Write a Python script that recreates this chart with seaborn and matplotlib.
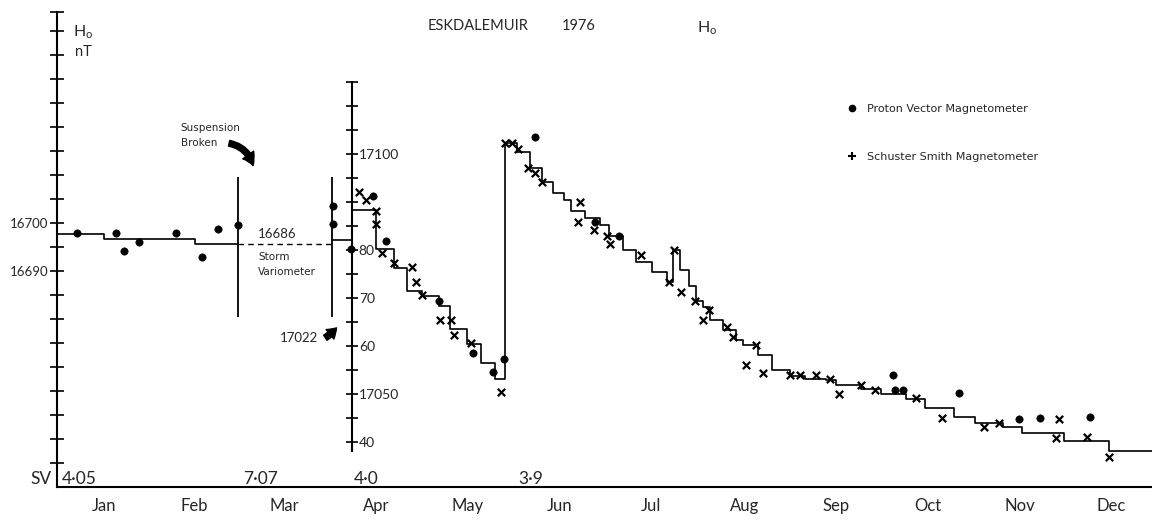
import numpy as np
import pandas as pd
import matplotlib
matplotlib.use("Agg")
import matplotlib.pyplot as plt
from matplotlib.lines import Line2D
import seaborn as sns

#%% values (day of year 1976, H in nT)
# Jan - Mar, left scale (166xx)
jan_step_day = [0.0, 15.6, 45.8, 60.1]
jan_step_h = [16697.7, 16696.7, 16695.6, 16695.6]
storm_day = [60.1, 91.3]
storm_h = [16695.6, 16695.6]
jan_pvm_day = [6.6, 19.6, 22.3, 27.2, 39.5, 48.2, 53.5, 60.1]
jan_pvm_h = [16697.9, 16697.9, 16694.1, 16696.0, 16697.9, 16692.9, 16698.7, 16699.6]
break_day = [60.1, 91.3]
break_lo = 16680.4
break_hi = 16709.6

# Apr - Dec, second scale (170xx)
step_day = [91.3, 98.0, 106.0, 112.1, 116.5, 121.2, 127.0, 130.8, 136.3, 141.1,
            145.5, 148.8, 153.0, 157.4, 161.3, 164.9, 168.5, 171.0, 175.4, 180.4,
            183.5, 188.1, 192.6, 197.9, 202.7, 204.7, 207.0, 210.1, 212.3, 214.7,
            217.2, 221.4, 225.8, 228.0, 233.0, 237.8, 243.5, 248.5, 255.7, 258.8,
            267.4, 274.0, 282.1, 288.7, 298.3, 305.0, 314.6, 320.8, 334.6, 349.6, 364.0]
step_h = [17082.1, 17088.3, 17080.2, 17076.2, 17071.5, 17070.3, 17068.3, 17063.5, 17060.4, 17056.4,
          17053.1, 17102.2, 17100.3, 17097.0, 17094.2, 17091.9, 17090.4, 17088.0, 17086.6, 17085.2,
          17082.9, 17080.0, 17077.4, 17075.3, 17073.4, 17080.0, 17075.8, 17072.4, 17069.4, 17068.1,
          17065.3, 17063.3, 17061.2, 17060.2, 17058.1, 17054.9, 17053.7, 17053.1, 17052.8, 17051.9,
          17051.0, 17050.0, 17049.0, 17047.0, 17045.1, 17043.9, 17043.1, 17041.9, 17040.1, 17038.0, 17038.0]
ssm_day = [100.4, 102.6, 106.0, 106.0, 108.2, 112.1, 118.0, 119.3, 121.4, 127.2,
           130.9, 131.9, 137.5, 147.7, 148.8, 151.3, 153.3, 156.6, 158.8, 161.2,
           173.8, 173.2, 178.5, 182.8, 183.7, 194.2, 203.3, 205.1, 207.3, 212.0,
           216.9, 214.7, 222.7, 224.6, 232.3, 228.9, 234.6, 243.5, 247.1, 252.2,
           256.8, 260.0, 267.4, 271.9, 285.4, 294.1, 308.3, 313.0, 333.2, 332.1,
           342.4, 349.6]
ssm_h = [17092.0, 17090.3, 17088.2, 17085.4, 17079.3, 17077.2, 17076.4, 17073.4, 17070.6, 17065.4,
         17065.4, 17062.3, 17060.6, 17050.3, 17102.2, 17102.2, 17101.0, 17097.0, 17096.0, 17094.2,
         17089.9, 17085.9, 17084.2, 17082.9, 17081.2, 17079.0, 17073.3, 17079.9, 17071.2, 17069.4,
         17067.4, 17065.3, 17064.0, 17061.9, 17060.2, 17056.0, 17054.3, 17053.9, 17053.9, 17053.9,
         17053.0, 17050.0, 17051.9, 17050.8, 17049.1, 17044.9, 17043.1, 17043.9, 17044.8, 17040.8,
         17041.0, 17036.9]
pvm_day = [91.7, 91.7, 97.6, 104.9, 109.3, 127.0, 138.3, 145.1, 148.5, 159.0,
           178.7, 186.7, 277.8, 278.7, 281.2, 300.0, 319.7, 326.8, 343.5]
pvm_h = [17089.2, 17085.4, 17080.2, 17091.3, 17081.9, 17069.4, 17058.5, 17054.6, 17057.3, 17103.5,
         17085.9, 17082.8, 17054.0, 17050.8, 17050.8, 17050.1, 17044.8, 17044.9, 17045.1]

month_start = [31, 60, 91, 121, 152, 182, 213, 244, 274, 305, 335]
month_mid = [15.5, 45.5, 75.5, 106, 136.5, 167, 197.5, 228.5, 259, 289.5, 320, 350.5]
month_names = ["Jan", "Feb", "Mar", "Apr", "May", "Jun", "Jul", "Aug", "Sep", "Oct", "Nov", "Dec"]
sv_day = [1.7, 61.8, 98.7, 153.5]
sv_text = ["4·05", "7·07", "4·0", "3·9"]
left_ticks = list(range(16650, 16746, 5))
left_labels = {16690: "16690", 16700: "16700"}
right_ticks = list(range(17040, 17116, 5))
right_labels = {17040: "40", 17050: "17050", 17060: "60", 17070: "70", 17080: "80", 17100: "17100"}

#%%
sns.set_style("white")
plt.rcParams['font.family'] = ['Lato', 'DejaVu Sans']
plt.rcParams['mathtext.fontset'] = 'custom'
plt.rcParams['mathtext.rm'] = 'Lato'

OFFSET = 385.6  # shift between the two H scales
YLIM = (16645, 16745)
LW = 1.2
SMALL = ['DejaVu Sans']

fig = plt.figure(figsize=(11.52, 5.2), dpi=100)
ax = fig.add_axes([57 / 1152, 33 / 520, 1 - 57 / 1152, 480 / 520])
ax2 = ax.twinx()

# Jan-Mar
sns.lineplot(x=jan_step_day, y=jan_step_h, drawstyle="steps-post", estimator=None, sort=False,
             color="k", lw=LW, ax=ax)
sns.lineplot(x=storm_day, y=storm_h, estimator=None, sort=False, color="k", lw=1.0,
             dashes=False, ax=ax).lines[-1].set_linestyle((0, (4, 3)))
sns.scatterplot(x=jan_pvm_day, y=jan_pvm_h, marker="o", s=28, color="k", edgecolor="k", ax=ax)
ax.vlines(break_day, break_lo, break_hi, color="k", lw=1.3)

# Apr-Dec
sns.lineplot(x=step_day, y=step_h, drawstyle="steps-post", estimator=None, sort=False,
             color="k", lw=LW, ax=ax2)
sns.scatterplot(x=ssm_day, y=ssm_h, marker="x", s=28, color="k", linewidth=1.6, ax=ax2)
sns.scatterplot(x=pvm_day, y=pvm_h, marker="o", s=28, color="k", edgecolor="k", ax=ax2)

ax.set_xlim(0, 364)
ax.set_ylim(*YLIM)
ax2.set_ylim(YLIM[0] + OFFSET, YLIM[1] + OFFSET)
ax.set_xlabel("")
ax.set_ylabel("")
ax2.set_ylabel("")

for s in ["top", "right"]:
    ax.spines[s].set_visible(False)
for s in ["top", "left", "bottom"]:
    ax2.spines[s].set_visible(False)
for s in ["left", "bottom"]:
    ax.spines[s].set_linewidth(1.5)
    ax.spines[s].set_color("k")
ax.spines["left"].set_bounds(YLIM[0], 16744)
ax2.spines["right"].set_position(("data", 98.0))
ax2.spines["right"].set_bounds(17038, 17115)
ax2.spines["right"].set_linewidth(1.5)
ax2.spines["right"].set_color("k")

ax.set_yticks(left_ticks[:-1] + [16744], [left_labels.get(t, "") for t in left_ticks])
ax.tick_params(axis="y", direction="inout", length=10, width=1.2, labelsize=9.5, pad=1, color="k")
ax2.set_yticks(right_ticks, [right_labels.get(t, "") for t in right_ticks])
ax2.tick_params(axis="y", direction="inout", length=8, width=1.2, labelsize=10, pad=1, color="k")

ax.set_xticks(month_start, [""] * len(month_start))
ax.set_xticks(month_mid, month_names, minor=True)
ax.tick_params(axis="x", which="major", direction="inout", length=10, width=1.2, color="k")
ax.tick_params(axis="x", which="minor", length=0, labelsize=12, pad=8)

# SV labels along the bottom
ax.text(-1.7, 16646.6, "SV", ha="right", va="center", fontsize=12.5)
for d, t in zip(sv_day, sv_text):
    ax.text(d, 16646.6, t, ha="left", va="center", fontsize=12.5)

# annotations
ax.text(40.9, 16719.8, "Suspension", fontsize=7.5, va="center", family=SMALL)
ax.text(41.2, 16716.7, "Broken", fontsize=7.5, va="center", family=SMALL)
ax.annotate("", xy=(65.4, 16711.4), xytext=(56.3, 16716.7),
            arrowprops=dict(arrowstyle="simple,head_length=0.7,head_width=0.8,tail_width=0.35",
                            connectionstyle="arc3,rad=-0.35", fc="k", ec="k", mutation_scale=12))
ax.text(66.8, 16697.7, "16686", fontsize=9.5, va="center")
ax.text(66.8, 16692.9, "Storm", fontsize=7.5, va="center", family=SMALL)
ax.text(66.8, 16689.8, "Variometer", fontsize=7.5, va="center", family=SMALL)
ax.text(86.7, 16676.0, "17022", fontsize=9.5, va="center", ha="right")
ax.annotate("", xy=(93.5, 16678.6), xytext=(88.4, 16675.8),
            arrowprops=dict(arrowstyle="simple,head_length=0.6,head_width=0.8,tail_width=0.4",
                            connectionstyle="arc3,rad=0.1", fc="k", ec="k", mutation_scale=11))

# titles
fig.text(428 / 1152, 1 - 26 / 520, "ESKDALEMUIR", fontsize=10.5, va="center")
fig.text(562 / 1152, 1 - 26 / 520, "1976", fontsize=10.5, va="center")
fig.text(697 / 1152, 1 - 28 / 520, r"H$_\mathrm{o}$", fontsize=11.5, va="center")
fig.text(73 / 1152, 1 - 32 / 520, r"H$_\mathrm{o}$", fontsize=11.5, va="center")
fig.text(75 / 1152, 1 - 52 / 520, "nT", fontsize=10.5, va="center")

handles = [Line2D([], [], marker="o", ls="", color="k", ms=4.5),
           Line2D([], [], marker="+", ls="", color="k", ms=6, mew=1.5)]
fig.legend(handles, ["Proton Vector Magnetometer", "Schuster Smith Magnetometer"],
           loc="upper left", bbox_to_anchor=(846 / 1152, 1 - 104 / 520), frameon=False,
           borderpad=0, borderaxespad=0, handlelength=1.0, handletextpad=0.9,
           labelspacing=3.4, prop={"size": 8, "family": SMALL})

fig.savefig("out.png", dpi=100)
